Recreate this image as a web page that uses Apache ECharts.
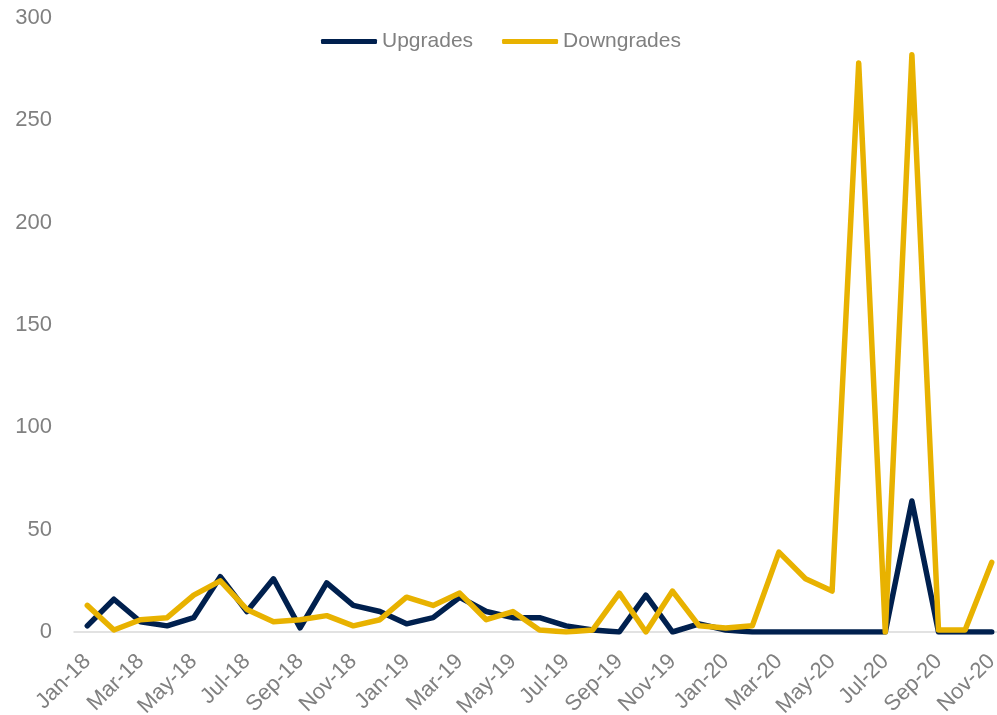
<!DOCTYPE html>
<html>
<head>
<meta charset="utf-8">
<script src="https://cdn.jsdelivr.net/npm/echarts@6/dist/echarts.min.js"></script>
<style>
html,body{margin:0;padding:0;background:#fff;}
#chart{width:997px;height:715px;}
</style>
</head>
<body>
<div id="chart"></div>
<script>
var months = ['Jan-18','Feb-18','Mar-18','Apr-18','May-18','Jun-18','Jul-18','Aug-18','Sep-18','Oct-18','Nov-18','Dec-18',
  'Jan-19','Feb-19','Mar-19','Apr-19','May-19','Jun-19','Jul-19','Aug-19','Sep-19','Oct-19','Nov-19','Dec-19',
  'Jan-20','Feb-20','Mar-20','Apr-20','May-20','Jun-20','Jul-20','Aug-20','Sep-20','Oct-20','Nov-20'];
var upgrades = [3,16,5,3,7,27,10,26,2,24,13,10,4,7,17,10,7,7,3,1,0,18,0,4,1,0,0,0,0,0,0,64,0,0,0];
var downgrades = [13,1,6,7,18,25,11,5,6,8,3,6,17,13,19,6,10,1,0,1,19,0,20,3,2,3,39,26,20,278,0,282,1,1,34];

var FONT = "'Liberation Sans', sans-serif";
var chart = echarts.init(document.getElementById('chart'), null, {renderer:'canvas'});
chart.setOption({
  animation: false,
  backgroundColor: '#ffffff',
  legend: {
    left: 316, top: 26,
    itemWidth: 56, itemHeight: 5, itemGap: 29,
    icon: 'roundRect',
    textStyle: {color: '#808080', fontSize: 21, fontFamily: FONT},
    data: ['Upgrades','Downgrades']
  },
  grid: {left: 74, top: 18, bottom: 83, width: 931, containLabel: false, outerBoundsMode: 'none'},
  xAxis: {
    type: 'category',
    data: months,
    boundaryGap: true,
    axisLine: {lineStyle: {color: '#d9d9d9', width: 1.5}},
    axisTick: {interval: 1, length: 8, lineStyle: {color: '#d9d9d9', width: 1.5}},
    axisLabel: {interval: 1, rotate: 45, margin: 26, color: '#808080', fontSize: 22, fontFamily: FONT},
    splitLine: {show: false}
  },
  yAxis: {
    type: 'value',
    min: 0, max: 300, interval: 50,
    axisLine: {show: false},
    axisTick: {show: false},
    splitLine: {show: false},
    axisLabel: {margin: 22, color: '#808080', fontSize: 22, fontFamily: FONT}
  },
  series: [
    {name: 'Upgrades', type: 'line', data: upgrades, showSymbol: false, symbol: 'none',
     color: '#00204e', lineStyle: {width: 5.5, color: '#00204e', join: 'round', cap: 'round'}},
    {name: 'Downgrades', type: 'line', data: downgrades, showSymbol: false, symbol: 'none',
     color: '#e8b200', lineStyle: {width: 5.5, color: '#e8b200', join: 'round', cap: 'round'}}
  ]
});
</script>
</body>
</html>
